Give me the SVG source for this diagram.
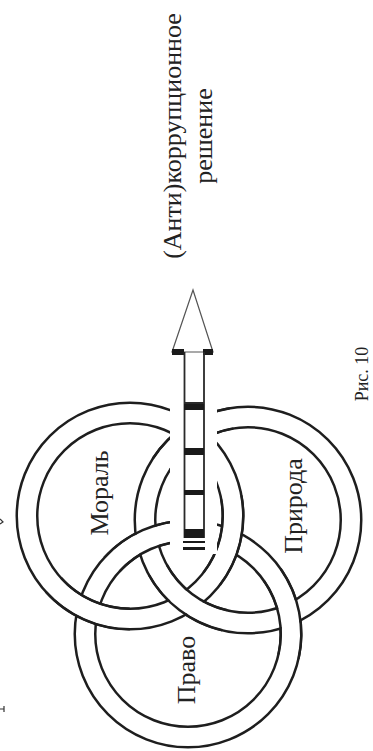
<svg xmlns="http://www.w3.org/2000/svg" width="373" height="751" viewBox="0 0 373 751">
<style>
.rb{fill:none;stroke:#1e1e1e;stroke-width:23}
.rw{fill:none;stroke:#fff;stroke-width:18}
.ow{fill:none;stroke:#fff;stroke-width:18}
.oe{fill:none;stroke:#1e1e1e;stroke-width:2.5}
.t{font-family:"Liberation Serif","Times New Roman",serif;fill:#222;font-size:26px;text-anchor:middle}
.bar{fill:#1a1a1a}
.side{stroke:#2a2a2a;stroke-width:1.8;fill:none}
</style>
<rect width="373" height="751" fill="#fff"/>
<g id="rings">
<g id="ring-pravo"><circle class="rb" cx="188" cy="634" r="103"/><circle class="rw" cx="188" cy="634" r="103"/></g>
<g id="ring-priroda"><circle class="rb" cx="248" cy="520" r="103"/><circle class="rw" cx="248" cy="520" r="103"/></g>
<g id="ring-moral"><circle class="rb" cx="130" cy="516" r="103"/><circle class="rw" cx="130" cy="516" r="103"/></g>
<g id="overlaps">
<path class="ow" d="M129.82 619 A103 103 0 0 1 53.34 584.78"/>
<path class="oe" d="M129.84 608.75 A92.75 92.75 0 0 1 60.97 577.94 M129.8 629.25 A113.25 113.25 0 0 1 45.71 591.63"/>
<path class="ow" d="M231.27 497.23 A103 103 0 0 1 211.72 578.7"/>
<path class="oe" d="M221.2 499.1 A92.75 92.75 0 0 1 203.58 572.46 M241.35 495.36 A113.25 113.25 0 0 1 219.85 584.94"/>
<path class="ow" d="M272.17 574.63 A103 103 0 0 1 288.44 656.82"/>
<path class="oe" d="M263.79 580.54 A92.75 92.75 0 0 1 278.45 654.55 M280.54 568.72 A113.25 113.25 0 0 1 298.44 659.09"/>
<path class="ow" d="M111.94 564.55 A103 103 0 0 1 188.72 531"/>
<path class="oe" d="M119.51 571.46 A92.75 92.75 0 0 1 188.65 541.25 M104.37 557.63 A113.25 113.25 0 0 1 188.79 520.75"/>
<path class="ow" d="M224.65 620.32 A103 103 0 0 1 157.83 569.78"/>
<path class="oe" d="M226.98 610.34 A92.75 92.75 0 0 1 166.8 564.82 M222.33 630.3 A113.25 113.25 0 0 1 148.86 574.73"/>
<path class="ow" d="M161.52 464.05 A103 103 0 0 1 231.71 418.3"/>
<path class="oe" d="M170.13 469.62 A92.75 92.75 0 0 1 233.33 428.42 M152.91 458.49 A113.25 113.25 0 0 1 230.09 408.18"/>
</g>
</g>
<g id="connectors">
<rect x="170" y="398" width="47" height="156" fill="#fff"/>
<polygon points="172,352 193,290 213,352" fill="#fff" stroke="#555" stroke-width="1.2"/>
<rect class="bar" x="172" y="349" width="12" height="6"/>
<rect class="bar" x="203" y="349" width="10" height="6"/>
<path class="side" d="M184.5 352 V538 M204 352 V538 M184.5 403 H204"/>
<rect class="bar" x="184" y="404" width="20" height="6"/>
<rect class="bar" x="184" y="448" width="20" height="7"/>
<rect class="bar" x="184" y="490" width="20" height="5"/>
<rect class="bar" x="184" y="529" width="20" height="9"/>
<rect class="bar" x="183" y="541" width="22" height="2"/>
<rect class="bar" x="183" y="547" width="22" height="3"/>
</g>
<g id="marks" stroke="#333" stroke-width="1.2" fill="none">
<path d="M0 519 L3 522 L0 524"/>
<path d="M0 709 H4 M4 706 V712"/>
</g>
<g id="labels">
<text class="t" transform="translate(181 136) rotate(-90)">(Анти)коррупционное</text>
<text class="t" transform="translate(212 136) rotate(-90)">решение</text>
<text class="t" transform="translate(108 493) rotate(-90)">Мораль</text>
<text class="t" transform="translate(302 506) rotate(-90)">Природа</text>
<text class="t" transform="translate(195 670) rotate(-90)">Право</text>
<text class="t" style="font-size:18px" transform="translate(368 374) rotate(-90)">Рис. 10</text>
</g>
</svg>
